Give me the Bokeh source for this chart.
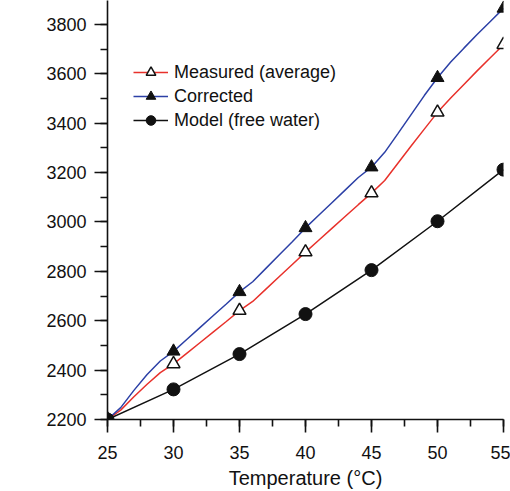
import math
from bokeh.plotting import figure
from bokeh.models import SingleIntervalTicker, Range1d, Label
from bokeh.embed import file_html
from bokeh.resources import INLINE

# ---- data ----
temp_dense = [25, 26, 27, 28, 29, 30, 31, 32, 33, 34, 35, 36, 37, 38, 39, 40,
              41, 42, 43, 44, 45, 46, 47, 48, 49, 50, 51, 52, 53, 54, 55]
measured_dense = [2200, 2238, 2292, 2343, 2390, 2425, 2468, 2511, 2554, 2597, 2641,
                  2678, 2728, 2778, 2828, 2878, 2926, 2974, 3022, 3070, 3117,
                  3168, 3238, 3308, 3376, 3444, 3502, 3557, 3612, 3665, 3718]
corrected_dense = [2200, 2248, 2318, 2382, 2437, 2476, 2524, 2572, 2620, 2668, 2717,
                   2758, 2812, 2866, 2920, 2976, 3027, 3078, 3129, 3180, 3222,
                   3282, 3358, 3435, 3512, 3584, 3648, 3704, 3759, 3812, 3865]
temp_marks = [25, 30, 35, 40, 45, 50, 55]
model_vals = [2200, 2322, 2465, 2627, 2805, 3003, 3212]

measured_marks = [measured_dense[temp_dense.index(t)] for t in temp_marks]
corrected_marks = [corrected_dense[temp_dense.index(t)] for t in temp_marks]

x_ticks_interval = 5
y_ticks_interval = 200

# ---- layout ----
W, H = 510, 491
BL, BR, BT, BB = 107, 7, 0, 71
X0, X1 = 25, 55
Y0 = 2200
PX_PER_KPA = 396.0 / 1600.0
Y1 = Y0 + (H - BT - BB) / PX_PER_KPA
PX_PER_C = (W - BL - BR) / (X1 - X0)

FONT = "Liberation Sans"
RED = "#e8312b"
BLUE = "#2c40a6"
BLACK = "#111111"

p = figure(width=W, height=H, x_range=Range1d(X0, X1), y_range=Range1d(Y0, Y1),
           output_backend="svg", toolbar_location=None,
           min_border_left=BL, min_border_right=BR, min_border_top=BT,
           min_border_bottom=BB)
p.outline_line_color = None
p.grid.visible = False
p.background_fill_color = "white"
p.border_fill_color = "white"

p.xaxis.ticker = SingleIntervalTicker(interval=x_ticks_interval, num_minor_ticks=2)
p.yaxis.ticker = SingleIntervalTicker(interval=y_ticks_interval, num_minor_ticks=2)
for ax in (p.xaxis[0], p.yaxis[0]):
    ax.major_tick_in = 0
    ax.major_tick_out = 13
    ax.minor_tick_in = 0
    ax.minor_tick_out = 7
    ax.axis_line_width = 1.6
    ax.major_tick_line_width = 1.6
    ax.minor_tick_line_width = 1.6
    ax.axis_line_color = BLACK
    ax.major_tick_line_color = BLACK
    ax.minor_tick_line_color = BLACK
    ax.major_label_text_font = FONT
    ax.major_label_text_font_size = "18px"
    ax.major_label_text_color = BLACK
p.xaxis.major_label_standoff = 13
p.yaxis.major_label_standoff = 8
p.xaxis.axis_label = "Temperature (°C)"
p.xaxis.axis_label_text_font = FONT
p.xaxis.axis_label_text_font_size = "20px"
p.xaxis.axis_label_text_font_style = "normal"
p.xaxis.axis_label_text_color = BLACK
p.xaxis.axis_label_standoff = 5

# ---- series ----
p.line(temp_dense, measured_dense, line_color=RED, line_width=1.5,
       legend_label="Measured (average)")
p.scatter(temp_marks, measured_marks, marker="triangle", size=13,
          fill_color="white", line_color=BLACK, line_width=1.5,
          legend_label="Measured (average)")
p.line(temp_dense, corrected_dense, line_color=BLUE, line_width=1.5,
       legend_label="Corrected")
p.scatter(temp_marks, corrected_marks, marker="triangle", size=13,
          fill_color=BLACK, line_color=BLACK, legend_label="Corrected")
p.line(temp_marks, model_vals, line_color=BLACK, line_width=1.5,
       legend_label="Model (free water)")
p.scatter(temp_marks, model_vals, marker="circle", size=13,
          fill_color=BLACK, line_color=BLACK, legend_label="Model (free water)")

lg = p.legend[0]
lg.location = (26, 287)
lg.border_line_color = None
lg.background_fill_alpha = 0
lg.padding = 0
lg.margin = 0
lg.spacing = 0
lg.glyph_width = 35
lg.glyph_height = 24
lg.label_height = 24
lg.label_standoff = 6
lg.label_text_font = FONT
lg.label_text_font_size = "18px"
lg.label_text_color = BLACK

# ---- y axis title (italic u + (kPa)) ----
def fx(px):
    return X0 + (px - BL) / PX_PER_C

def fy(py):
    return Y1 - (py - BT) / PX_PER_KPA

p.add_layout(Label(x=fx(23), y=fy(258), text="u", angle=math.pi / 2,
                   text_font=FONT, text_font_size="20px", text_font_style="italic",
                   text_align="left", text_baseline="middle", text_color=BLACK))
p.add_layout(Label(x=fx(23), y=fy(246), text="(kPa)", angle=math.pi / 2,
                   text_font=FONT, text_font_size="20px",
                   text_align="left", text_baseline="middle", text_color=BLACK))

open("out.html", "w").write(file_html(p, INLINE))
